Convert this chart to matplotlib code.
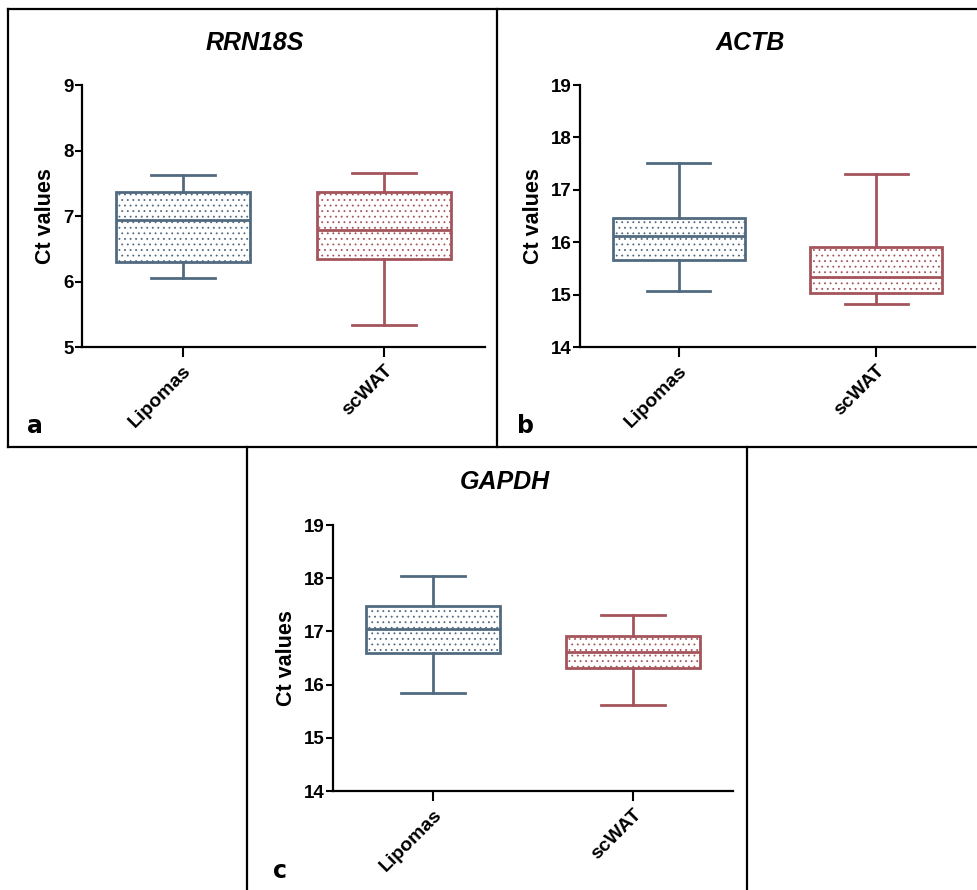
import matplotlib.pyplot as plt
from matplotlib.lines import Line2D

plt.rcParams['font.family'] = ['Liberation Sans', 'DejaVu Sans']
plt.rcParams['hatch.linewidth'] = 0.6

# groupes
groups = ['Lipomas', 'scWAT']
col_lip = '#526a80'
col_wat = '#a5545c'

# valeurs : (min, Q1, mediane, Q3, max)
rrn18s_lip = [6.05, 6.30, 6.94, 7.36, 7.63]
rrn18s_wat = [5.33, 6.35, 6.79, 7.37, 7.66]
actb_lip = [15.06, 15.66, 16.11, 16.46, 17.51]
actb_wat = [14.82, 15.04, 15.34, 15.91, 17.30]
gapdh_lip = [15.84, 16.59, 17.05, 17.47, 18.05]
gapdh_wat = [15.62, 16.32, 16.62, 16.92, 17.31]

W, H = 977, 890
fig = plt.figure(figsize=(W/100, H/100), dpi=100)


def px_axes(x0, x1, y0, y1):
    # coordonnées en pixels (origine en haut a gauche)
    return fig.add_axes([x0/W, 1-y1/H, (x1-x0)/W, (y1-y0)/H])


def stats(vals, lab):
    return dict(whislo=vals[0], q1=vals[1], med=vals[2], q3=vals[3],
                whishi=vals[4], label=lab)


def draw_panel(ax, lip, wat, ylim):
    st = [stats(lip, groups[0]), stats(wat, groups[1])]
    bp = ax.bxp(st, positions=[1, 2], widths=0.667, capwidths=0.32,
                patch_artist=True, showfliers=False)
    for i, c in enumerate([col_lip, col_wat]):
        box = bp['boxes'][i]
        box.set_facecolor('white')
        box.set_edgecolor(c)
        box.set_linewidth(2.0)
        box.set_hatch('...')
        bp['medians'][i].set_color(c)
        bp['medians'][i].set_linewidth(2.0)
        for art in bp['whiskers'][2*i:2*i+2] + bp['caps'][2*i:2*i+2]:
            art.set_color(c)
            art.set_linewidth(2.0)
    ax.set_xlim(0.5, 2.5)
    ax.set_ylim(*ylim)
    ax.set_yticks(range(ylim[0], ylim[1]+1))
    ax.set_xticks([1, 2])
    ax.set_xticklabels(groups, rotation=45, ha='right', rotation_mode='anchor',
                       fontsize=14, fontweight='bold')
    for lab in ax.get_yticklabels():
        lab.set_fontsize(13.5)
        lab.set_fontweight('bold')
    ax.spines['top'].set_visible(False)
    ax.spines['right'].set_visible(False)
    ax.spines['left'].set_linewidth(1.6)
    ax.spines['bottom'].set_linewidth(1.6)
    ax.tick_params(axis='y', length=5, width=1.5, pad=1)
    ax.tick_params(axis='x', length=7, width=1.5, pad=4)
    ax.set_ylabel('Ct values', fontsize=15.5, fontweight='bold', labelpad=5)


ax1 = px_axes(82, 485, 85, 347)
draw_panel(ax1, rrn18s_lip, rrn18s_wat, (5, 9))
ax2 = px_axes(580, 975, 85, 347)
draw_panel(ax2, actb_lip, actb_wat, (14, 19))
ax3 = px_axes(333, 733, 525, 791)
draw_panel(ax3, gapdh_lip, gapdh_wat, (14, 19))

# titres
fig.text(255/W, 1-43/H, 'RRN18S', fontsize=18, fontweight='bold', style='italic',
         ha='center', va='center')
fig.text(750/W, 1-43/H, 'ACTB', fontsize=18, fontweight='bold', style='italic',
         ha='center', va='center')
fig.text(505/W, 1-482/H, 'GAPDH', fontsize=18, fontweight='bold', style='italic',
         ha='center', va='center')

# lettres des panneaux
for lx, ly, t in [(27, 433, 'a'), (517, 433, 'b'), (273, 878, 'c')]:
    fig.text(lx/W, 1-ly/H, t, fontsize=17, fontweight='bold',
             family='DejaVu Sans', ha='left', va='baseline')

# cadres
def fline(x0, y0, x1, y1):
    fig.add_artist(Line2D([x0/W, x1/W], [1-y0/H, 1-y1/H], color='black',
                          lw=1.6, transform=fig.transFigure))

fline(8, 9, 977, 9)
fline(8, 9, 8, 447)
fline(497, 9, 497, 447)
fline(8, 447, 977, 447)
fline(247, 447, 247, 890)
fline(747, 447, 747, 890)

fig.savefig('out.png', dpi=100)
